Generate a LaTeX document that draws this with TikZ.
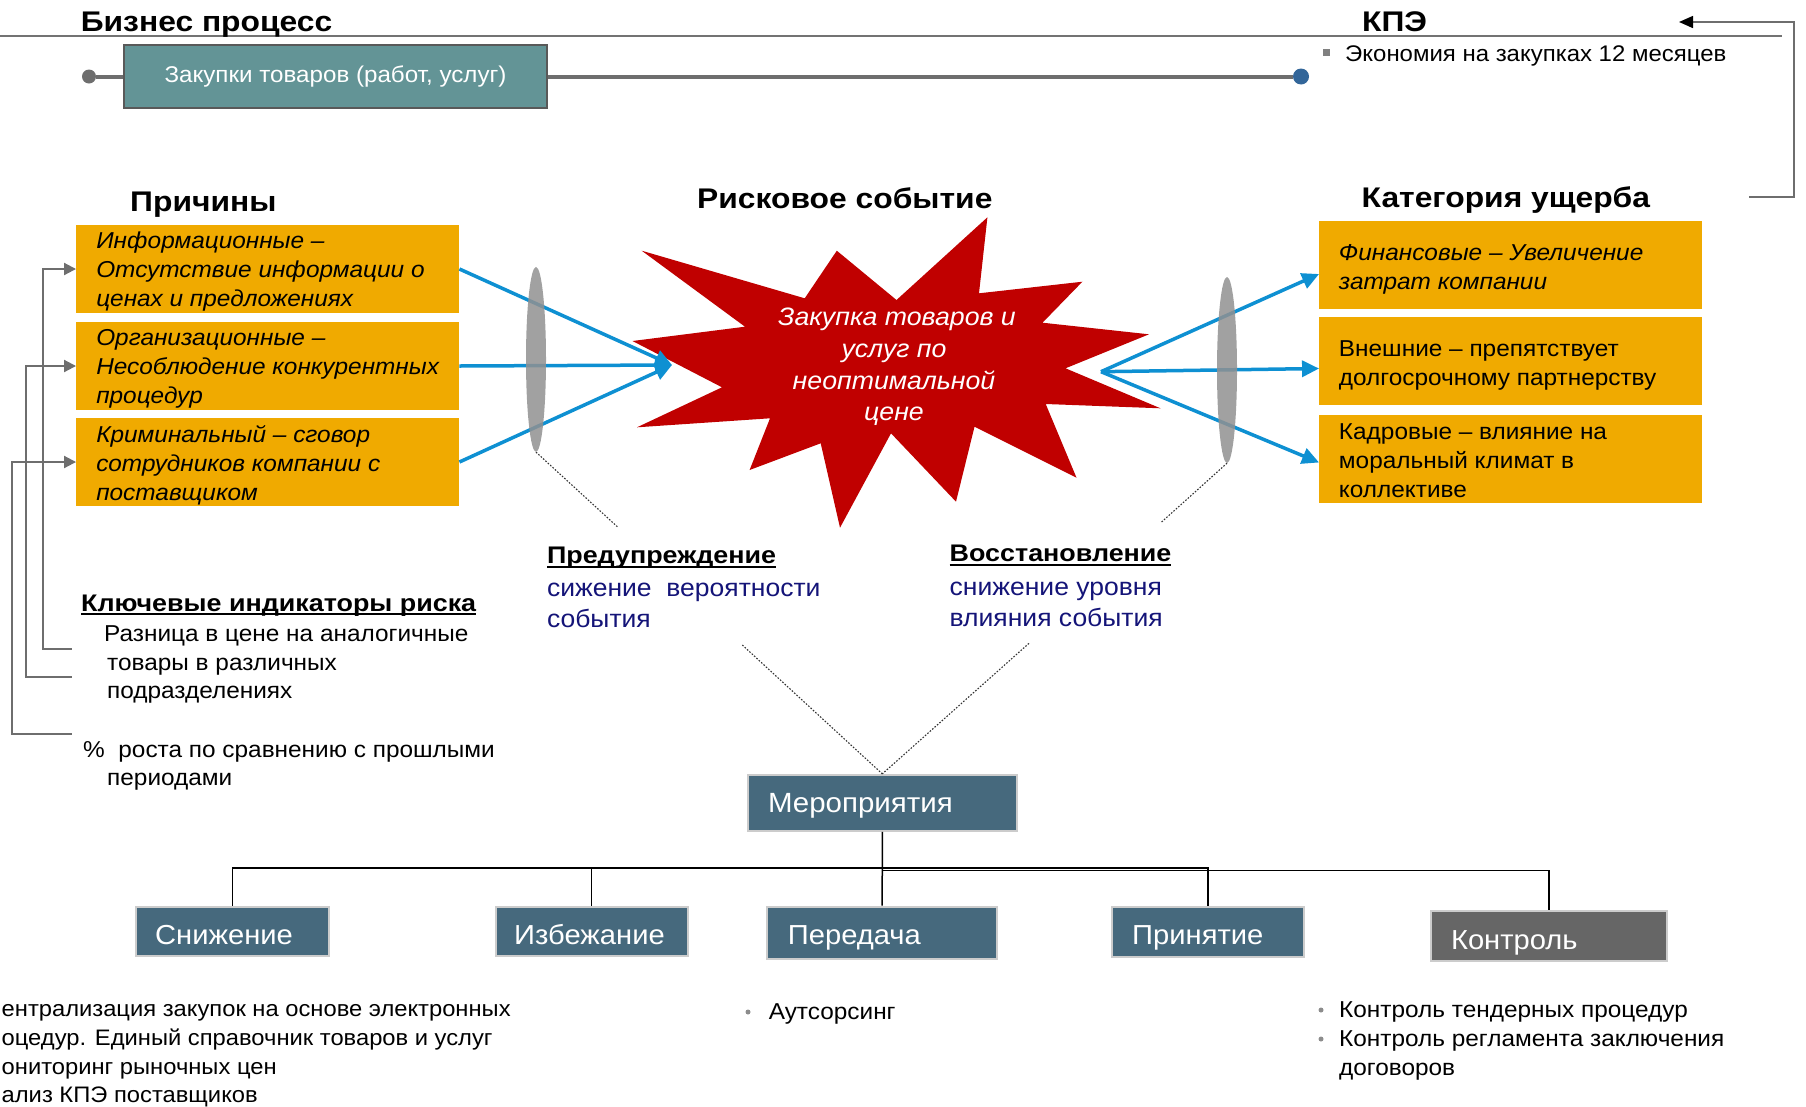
\documentclass[tikz,border=0pt]{standalone}
\usepackage{fontspec}
\setmainfont{Liberation Sans}[FakeStretch=1.06]
\newfontfamily\hbold{Liberation Sans}[FakeStretch=1.12]
\usetikzlibrary{arrows.meta,shapes.geometric}
\definecolor{cOrange}{RGB}{240,170,0}
\definecolor{cTeal}{RGB}{99,148,150}
\definecolor{cSteel}{RGB}{70,105,125}
\definecolor{cCtrl}{RGB}{102,102,102}
\definecolor{cRed}{RGB}{192,0,0}
\definecolor{cBlue}{RGB}{14,144,210}
\definecolor{cNavy}{RGB}{20,20,120}
\definecolor{cLine}{RGB}{110,110,110}
\definecolor{cDot}{RGB}{51,102,153}
\definecolor{cLens}{RGB}{145,145,145}
\newcommand{\fsz}[2]{\fontsize{#1}{#2}\selectfont}
\newcommand{\ulbox}[1]{\setbox0\hbox{#1}\rlap{\rule[-4pt]{\wd0}{1.8pt}}\box0}
\begin{document}
\begin{tikzpicture}[x=1pt,y=-1pt,
  txt/.style={inner sep=0,anchor=base west},
  ctxt/.style={inner sep=0,anchor=base},
  title/.style={txt,font=\hbold\fsz{28.4}{34}\bfseries},
  body/.style={txt,font=\fsz{23}{28}},
  cut/.style={txt,font=\fsz{22.4}{28}},
  navy/.style={txt,font=\fsz{25}{30},text=cNavy},
  hdr/.style={txt,font=\hbold\fsz{24}{30}\bfseries},
  obox/.style={rectangle,fill=cOrange,minimum width=383,minimum height=88,inner sep=0},
  boxtxt/.style={inner sep=0,anchor=west,align=left,font=\fsz{23}{29}},
  sbox/.style={rectangle,fill=cSteel,draw=black!20,line width=2,inner sep=0},
  stxt/.style={txt,font=\fsz{27.5}{32},text=white},
  startxt/.style={ctxt,font=\fsz{25.2}{30}\itshape,text=white},
  blueln/.style={draw=cBlue,line width=3.5,-{Triangle[length=17pt,width=16pt]}},
  garrow/.style={draw=cLine,line width=2,-{Triangle[length=12pt,width=12pt]}},
  dotln/.style={draw=black!80,line width=1.1,dash pattern=on 1.6pt off 1.6pt},
  treeln/.style={draw=black,line width=1.5},
  lens/.style={ellipse,fill=cLens,fill opacity=0.85,minimum width=20,inner sep=0,draw=none},
  bull/.style={circle,fill=black!45,minimum size=5,inner sep=0}
]
\useasboundingbox (0,0) rectangle (1806,1106);

% ---------- top: business process ----------
\coordinate (tl1) at (0,36);
\coordinate (tl2) at (1782,36);
\draw[draw=black!55,line width=1.5] (tl1) -- (tl2);
\node[title] (tBP) at (80.6,31.7) {Бизнес процесс};
\node[title] (tKPE) at (1362,31.7) {КПЭ};

\node[rectangle,fill=cTeal,draw=black!65,line width=2,minimum width=423,minimum height=63,inner sep=0,
      text=white,font=\fsz{22.8}{26}] (proc) at (335.5,76.5) {Закупки товаров (работ, услуг)};
\node[circle,fill=cLine,minimum size=14,inner sep=0] (dotL) at (89,76.5) {};
\node[circle,fill=cDot,minimum size=16,inner sep=0] (dotR) at (1301,76.5) {};
\draw[cLine,line width=4] (dotL) -- (proc.west);
\draw[cLine,line width=4] (proc.east) -- (dotR);

\node[rectangle,fill=black!50,minimum size=7,inner sep=0] (bsq) at (1326,52) {};
\node[txt,font=\fsz{22.6}{26}] (kpe1) at (1345,61) {Экономия на закупках 12 месяцев};

\coordinate (brA) at (1749,197);
\coordinate (brB) at (1794,197);
\coordinate (brC) at (1794,22);
\coordinate (brD) at (1679,22);
\draw[draw=cLine,line width=1.5,-{Triangle[length=14pt,width=12pt,color=black]}] (brA) -- (brB) -- (brC) -- (brD);

% ---------- section titles ----------
\node[title] (tPr) at (130,211.7) {Причины};
\node[title] (tRE) at (697,208) {Рисковое событие};
\node[title] (tKU) at (1361.5,207) {Категория ущерба};

% ---------- star ----------
\fill[cRed] (632.5,341) -- (745,326.7) -- (641.7,250.7) -- (804.7,298.3) -- (836.8,250.7)
  -- (896.5,300) -- (987.4,217.3) -- (979,293.3) -- (1082.4,281.7) -- (1042.5,322.7)
  -- (1149,334.3) -- (1065.5,368.3) -- (1160.5,408.3) -- (1045.7,404) -- (1076.5,477.7)
  -- (974.5,426.7) -- (956,501.7) -- (891,433.3) -- (840,527.7) -- (820.7,443.3)
  -- (749.6,470) -- (770,418.3) -- (637,427.3) -- (722,387.3) -- cycle;
\node[startxt] (s1) at (897,325) {Закупка товаров и};
\node[startxt] (s2) at (894,357) {услуг по};
\node[startxt] (s3) at (894,389) {неоптимальной};
\node[startxt] (s4) at (894,420.5) {цене};

% ---------- causes ----------
\node[obox] (c1) at (267.75,269) {};
\node[obox] (c2) at (267.75,366) {};
\node[obox] (c3) at (267.75,462) {};
\node[boxtxt,font=\fsz{23}{29}\itshape] (c1t) at ([xshift=20pt,yshift=-3pt]c1.west) {Информационные –\\Отсутствие информации о\\ценах и предложениях};
\node[boxtxt,font=\fsz{23}{29}\itshape] (c2t) at ([xshift=20pt,yshift=-3pt]c2.west) {Организационные –\\Несоблюдение конкурентных\\процедур};
\node[boxtxt,font=\fsz{23}{29}\itshape] (c3t) at ([xshift=20pt,yshift=-3pt]c3.west) {Криминальный – сговор\\сотрудников компании с\\поставщиком};

% ---------- damage ----------
\node[obox] (d1) at (1510.75,265) {};
\node[obox] (d2) at (1510.75,361) {};
\node[obox] (d3) at (1510.75,459) {};
\node[boxtxt,font=\fsz{23}{29}\itshape] (d1t) at ([xshift=19.7pt,yshift=-4pt]d1.west) {Финансовые – Увеличение\\затрат компании};
\node[boxtxt] (d2t) at ([xshift=19.7pt,yshift=-4pt]d2.west) {Внешние – препятствует\\долгосрочному партнерству};
\node[boxtxt] (d3t) at ([xshift=19.7pt,yshift=-2pt]d3.west) {Кадровые – влияние на\\моральный климат в\\коллективе};

% ---------- blue connectors ----------
\coordinate (lconv) at (672,365);
\coordinate (rconv) at (1101,371.7);
\draw[blueln] (c1.east) -- (lconv);
\draw[blueln] (c2.east) -- (lconv);
\draw[blueln] (c3.east) -- (lconv);
\draw[blueln] (rconv) -- ([yshift=-9pt]d1.west);
\draw[blueln] (rconv) -- ([yshift=-7.5pt]d2.west);
\draw[blueln] (rconv) -- ([yshift=-3.5pt]d3.west);

% ---------- lenses ----------
\node[lens,minimum height=185] (lensL) at (536,359.4) {};
\node[lens,minimum height=186] (lensR) at (1227,370) {};
\coordinate (dl1) at (617.3,526.7);
\coordinate (dr1) at (1160.5,523);
\draw[dotln] (lensL.south) -- (dl1);
\draw[dotln] (lensR.south) -- (dr1);

% ---------- prevention / recovery ----------
\node[hdr] (pw) at (546.8,563.6) {\ulbox{Предупреждение}};
\node[navy] (pw1) at (546.8,596.6) {сижение\ \ вероятности};
\node[navy] (pw2) at (546.8,627.6) {события};
\node[hdr] (rw) at (949.5,561.6) {\ulbox{Восстановление}};
\node[navy] (rw1) at (949.5,595.3) {снижение уровня};
\node[navy] (rw2) at (949.5,626.6) {влияния события};

% ---------- key risk indicators ----------
\node[hdr] (kri) at (81,611) {\ulbox{Ключевые индикаторы риска}};
\node[body] (k1t) at (104,641.5) {Разница в цене на аналогичные};
\node[body] (k2t) at (107,670) {товары в различных};
\node[body] (k3t) at (107,698.5) {подразделениях};
\node[body] (k4t) at (83,757) {\%\ \ роста по сравнению с прошлыми};
\node[body] (k5t) at (107,785.5) {периодами};
\coordinate (k1) at (71.7,649);
\coordinate (k2) at (71.7,677.3);
\coordinate (k3) at (71.7,734);
\draw[garrow] (k1) -- ++(-29,0) |- (c1.west);
\draw[garrow] (k2) -- ++(-45.7,0) |- (c2.west);
\draw[garrow] (k3) -- ++(-60,0) |- (c3.west);

% ---------- measures ----------
\node[sbox,minimum width=269,minimum height=56] (mer) at (882.3,802.85) {};
\node[stxt,font=\fsz{27.8}{32}] (mert) at (767.8,812.5) {Мероприятия};
\coordinate (pl) at (742.3,645);
\coordinate (rl) at (1029,643.3);
\draw[dotln] (pl) -- (mer.north);
\draw[dotln] (rl) -- (mer.north);

\node[sbox,minimum width=192.5,minimum height=49.3] (sn) at (232.25,931.35) {};
\node[sbox,minimum width=192,minimum height=49.3] (iz) at (591.6,931.35) {};
\node[sbox,minimum width=230,minimum height=52.3] (pe) at (882,932.85) {};
\node[sbox,minimum width=192,minimum height=50] (pn) at (1208,931.7) {};
\node[sbox,fill=cCtrl,minimum width=236.3,minimum height=49.7] (ko) at (1548.85,935.85) {};
\node[stxt] (snt) at (155,944.4) {Снижение};
\node[stxt] (izt) at (514,944.4) {Избежание};
\node[stxt] (pet) at (787.7,944.4) {Передача};
\node[stxt] (pnt) at (1132,944.4) {Принятие};
\node[stxt] (kot) at (1450.8,949.4) {Контроль};

\coordinate (hub1) at (882.3,868);
\coordinate (hub2) at (882.3,870.7);
\draw[treeln] (mer.south) -- (hub1) -- (pe.north);
\draw[treeln] (sn.north) -- (sn.north |- hub1) -- (pn.north |- hub1) -- (pn.north);
\draw[treeln] (iz.north) -- (iz.north |- hub1);
\draw[treeln] (hub2) -- (ko.north |- hub2) -- (ko.north);

% ---------- bottom lists ----------
\node[cut] (l1) at (1.5,1016) {ентрализация закупок на основе электронных};
\node[cut] (l2) at (1.5,1045) {оцедур. Единый справочник товаров и услуг};
\node[cut] (l3) at (1.5,1074) {ониторинг рыночных цен};
\node[cut] (l4) at (1.5,1102) {ализ КПЭ поставщиков};

\node[bull] (b1) at (748,1012) {};
\node[body] (m1) at (768.6,1019.5) {Аутсорсинг};
\node[bull] (b2) at (1321,1010) {};
\node[bull] (b3) at (1321,1039) {};
\node[body] (n1) at (1339,1017.5) {Контроль тендерных процедур};
\node[body] (n2) at (1339,1046.5) {Контроль регламента заключения};
\node[body] (n3) at (1339,1075.5) {договоров};
\end{tikzpicture}
\end{document}
